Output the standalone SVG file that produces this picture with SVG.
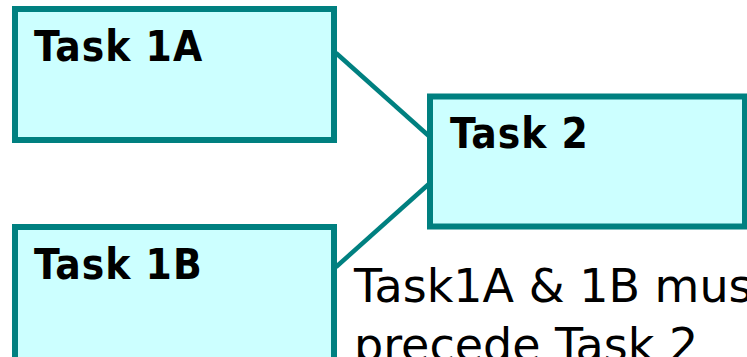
<svg xmlns="http://www.w3.org/2000/svg" width="747" height="357" viewBox="0 0 747 357">
<style>
.box{fill:#ccffff;stroke:#008080;stroke-width:6}
.lbl{font-family:"DejaVu Sans Condensed","DejaVu Sans",sans-serif;font-weight:bold;font-size:42px;letter-spacing:1px;fill:#000}
.conn{stroke:#008080;stroke-width:4.5;fill:none}
.note{font-family:"DejaVu Sans",sans-serif;font-size:46px;fill:#000}
</style>
<rect width="747" height="357" fill="#fff"/>
<g id="connectors">
<line class="conn" x1="336" y1="53" x2="430" y2="137"/>
<line class="conn" x1="336" y1="267" x2="430" y2="183"/>
</g>
<g id="task1a">
<rect class="box" x="15" y="9" width="319" height="131"/>
<text class="lbl" x="34" y="61">Task 1A</text>
</g>
<g id="task2">
<rect class="box" x="430" y="96.5" width="315" height="130"/>
<text class="lbl" x="450" y="148">Task 2</text>
</g>
<g id="task1b">
<rect class="box" x="15" y="227" width="319" height="140"/>
<text class="lbl" x="34" y="279">Task 1B</text>
</g>
<g id="note">
<text class="note" x="354" y="302">Task1A &amp; 1B must</text>
<text class="note" x="354" y="361">precede Task 2</text>
</g>
</svg>
